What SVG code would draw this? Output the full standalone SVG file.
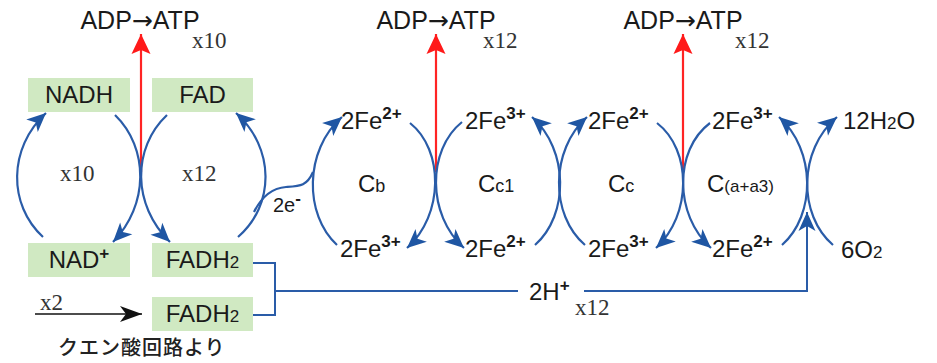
<svg xmlns="http://www.w3.org/2000/svg" width="937" height="363" viewBox="0 0 937 363">
<defs>
<style>
.t{font-family:"Liberation Sans",Arial,sans-serif;font-size:24px;fill:#1a1a1a}
.s{font-family:"Liberation Serif","Times New Roman",serif;font-size:23px;fill:#333}
.sup{font-size:17px;font-weight:bold}
.sub{font-size:17px}
.arw{font-family:"DejaVu Sans",sans-serif;font-size:25px}
.box{fill:#d0e9c2}
.arc{fill:none;stroke:#2a5ca8;stroke-width:2.2;marker-end:url(#ab)}
.arcn{fill:none;stroke:#2a5ca8;stroke-width:2.2}
.red{fill:none;stroke:#ff2424;stroke-width:2.2;marker-end:url(#ar)}
.ln{fill:none;stroke:#2a5ca8;stroke-width:2}
</style>
<marker id="ab" viewBox="-21 -10 23 20" markerWidth="23" markerHeight="20" refX="0" refY="0" orient="auto" markerUnits="userSpaceOnUse"><path d="M0,0 L-19,-8.5 L-14,0 L-19,8.5 Z" fill="#1f56a3"/></marker>
<marker id="ar" viewBox="-22 -11 24 22" markerWidth="24" markerHeight="22" refX="0" refY="0" orient="auto" markerUnits="userSpaceOnUse"><path d="M0,0 L-20,-9.5 L-16,0 L-20,9.5 Z" fill="#ff1a1a"/></marker>
<marker id="ak" viewBox="-24 -10 26 20" markerWidth="26" markerHeight="20" refX="0" refY="0" orient="auto" markerUnits="userSpaceOnUse"><path d="M0,0 L-22,-8 L-16,0 L-22,8 Z" fill="#111"/></marker>
</defs>
<rect width="937" height="363" fill="#fff"/>

<g id="connectors">
<path class="red" d="M141,172 V34"/>
<path class="red" d="M436,172 V34"/>
<path class="red" d="M683,172 V34"/>
<path class="arc" d="M43,237 C8,205 8,148 46,113"/>
<path class="arc" d="M115,115 C149,148 149,205 113,242"/>
<path class="arc" d="M167,115 C132,148 132,205 170,242"/>
<path class="arc" d="M238,237 C275,205 275,148 236,113"/>
<path class="arcn" d="M254,212 C262,196 272,188 286,187 C300,186 307,186 313,172"/>
<path class="arc" d="M337,245 C304,215 304,150 342,117"/>
<path class="arc" d="M410,123 C444,150 444,215 407,248"/>
<path class="arc" d="M462,122 C427,150 427,215 464,248"/>
<path class="arc" d="M535,245 C569,215 569,150 532,117"/>
<path class="arc" d="M585,245 C550,215 550,150 587,117"/>
<path class="arc" d="M657,123 C692,150 692,215 656,248"/>
<path class="arc" d="M710,123 C674,150 674,215 711,248"/>
<path class="arc" d="M782,245 C816,215 816,150 779,117"/>
<path class="arc" d="M833,245 C798,215 798,150 837,117"/>
<path class="ln" d="M253,263 H275 V315 H253"/>
<path class="ln" d="M275,291 H518"/>
<path class="ln" style="marker-end:url(#ab)" d="M584,291 H807 V212"/>
<path fill="none" stroke="#111" stroke-width="1.6" style="marker-end:url(#ak)" d="M35,314 H142"/>
</g>

<g id="atp1"><text class="t" x="140" y="29" text-anchor="middle" style="font-size:25px">ADP<tspan class="arw">→</tspan>ATP</text><text class="s" x="192" y="48">x10</text></g>
<g id="atp2"><text class="t" x="436" y="29" text-anchor="middle" style="font-size:25px">ADP<tspan class="arw">→</tspan>ATP</text><text class="s" x="483" y="48">x12</text></g>
<g id="atp3"><text class="t" x="683" y="29" text-anchor="middle" style="font-size:25px">ADP<tspan class="arw">→</tspan>ATP</text><text class="s" x="735" y="48">x12</text></g>

<g id="nadh"><rect class="box" x="28" y="78" width="102" height="34"/><text class="t" x="79" y="103" text-anchor="middle">NADH</text></g>
<g id="fad"><rect class="box" x="152" y="78" width="101" height="34"/><text class="t" x="202.5" y="103" text-anchor="middle">FAD</text></g>
<g id="nad"><rect class="box" x="28" y="243" width="102" height="34"/><text class="t" x="79" y="268" text-anchor="middle">NAD<tspan class="sup" dy="-9">+</tspan></text></g>
<g id="fadh2a"><rect class="box" x="152" y="243" width="101" height="34"/><text class="t" x="202.5" y="268" text-anchor="middle">FADH<tspan class="sub">2</tspan></text></g>
<g id="fadh2b"><rect class="box" x="152" y="297" width="101" height="34"/><text class="t" x="202.5" y="322" text-anchor="middle">FADH<tspan class="sub">2</tspan></text></g>

<g id="cyc1"><text class="s" x="60" y="181">x10</text></g>
<g id="cyc2"><text class="s" x="182" y="181">x12</text></g>
<g id="e2"><text class="t" x="273" y="212" style="font-size:20px">2e<tspan class="sup" dy="-8">-</tspan></text></g>

<g id="cb">
<text class="t" x="341" y="129">2Fe<tspan class="sup" dy="-10">2+</tspan></text>
<text class="t" x="358" y="192">C<tspan style="font-size:18px">b</tspan></text>
<text class="t" x="340" y="257">2Fe<tspan class="sup" dy="-10">3+</tspan></text>
</g>
<g id="cc1">
<text class="t" x="465" y="129">2Fe<tspan class="sup" dy="-10">3+</tspan></text>
<text class="t" x="478" y="192">C<tspan style="font-size:18px">c1</tspan></text>
<text class="t" x="465" y="257">2Fe<tspan class="sup" dy="-10">2+</tspan></text>
</g>
<g id="cc">
<text class="t" x="588" y="129">2Fe<tspan class="sup" dy="-10">2+</tspan></text>
<text class="t" x="608" y="192">C<tspan style="font-size:18px">c</tspan></text>
<text class="t" x="588" y="257">2Fe<tspan class="sup" dy="-10">3+</tspan></text>
</g>
<g id="caa3">
<text class="t" x="712" y="129">2Fe<tspan class="sup" dy="-10">3+</tspan></text>
<text class="t" x="707" y="192">C<tspan style="font-size:17px">(a+a3)</tspan></text>
<text class="t" x="712" y="257">2Fe<tspan class="sup" dy="-10">2+</tspan></text>
</g>
<g id="water"><text class="t" x="843" y="129">12H<tspan class="sub">2</tspan>O</text></g>
<g id="oxygen"><text class="t" x="841" y="258">6O<tspan class="sub">2</tspan></text></g>
<g id="proton"><text class="t" x="529" y="300">2H<tspan class="sup" dy="-9">+</tspan></text><text class="s" x="575" y="315">x12</text></g>
<g id="citric"><text class="s" x="40" y="310">x2</text><text x="58" y="355" style="font-family:'Noto Sans CJK JP','Noto Sans CJK SC',sans-serif;font-size:20px;font-weight:500;fill:#222;letter-spacing:1px">クエン酸回路より</text></g>
</svg>
